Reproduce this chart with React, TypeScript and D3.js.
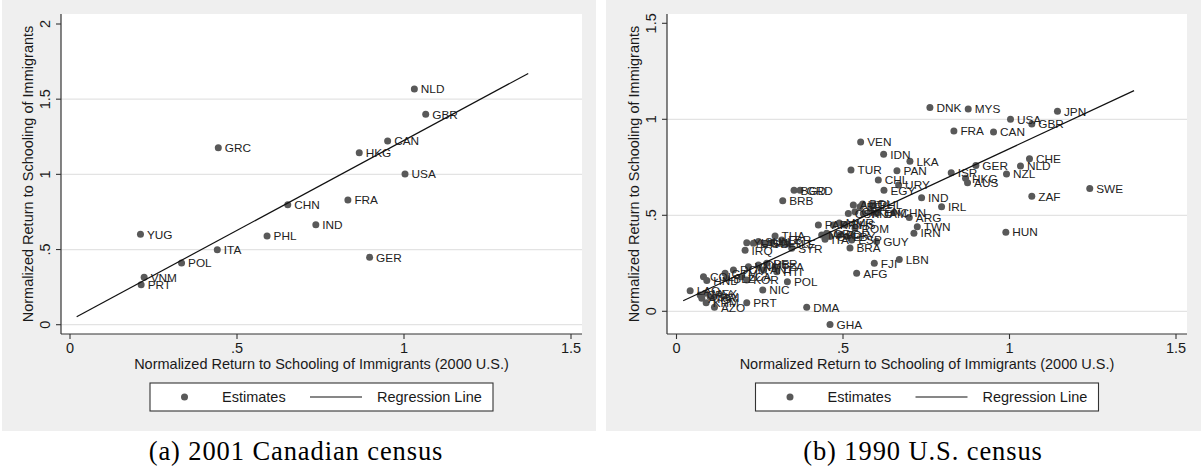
import React from 'react';
import * as d3 from 'd3';

// ---------- Panel (a): 2001 Canadian census ----------
const codes2001 = ['NLD', 'GBR', 'CAN', 'HKG', 'USA', 'GRC', 'FRA', 'CHN', 'IND', 'YUG', 'PHL', 'ITA', 'POL', 'VNM', 'PRT', 'GER'];
const x2001 = [1.031, 1.065, 0.951, 0.866, 1.003, 0.444, 0.832, 0.652, 0.736, 0.211, 0.59, 0.441, 0.334, 0.222, 0.213, 0.897];
const y2001 = [1.568, 1.399, 1.222, 1.144, 1.002, 1.177, 0.829, 0.798, 0.665, 0.601, 0.59, 0.499, 0.41, 0.315, 0.266, 0.448];
const fit2001 = { intercept: 0.029, slope: 1.197, from: 0.02, to: 1.372 };
const yTicks2001 = [0, 0.5, 1, 1.5, 2];
const yTickLabels2001 = ['0', '.5', '1', '1.5', '2'];
const yGrid2001 = [0, 0.5, 1, 1.5];

// ---------- Panel (b): 1990 U.S. census ----------
const codes1990 = [
  'DNK', 'MYS', 'JPN', 'USA', 'GBR', 'FRA', 'CAN', 'VEN', 'IDN', 'LKA',
  'CHE', 'NLD', 'GER', 'TUR', 'PAN', 'ISR', 'NZL', 'HKG', 'AUS', 'CHL',
  'URY', 'EGY', 'SWE', 'ZAF', 'IND', 'IRL', 'BGD', 'GRD', 'BRB', 'HUN',
  'AUT', 'BOL', 'PHL', 'BEL', 'CSK', 'CRI', 'TTO', 'KEN', 'JAM', 'CHN',
  'ARG', 'TWN', 'IRN', 'PAK', 'MMR', 'PRY', 'BHS', 'ROM', 'GRC', 'ITA',
  'MAR', 'CYP', 'JOR', 'LBY', 'ESP', 'GUY', 'BRA', 'THA', 'YUG', 'ETH',
  'SUN', 'SGP', 'MLT', 'LBR', 'SLE', 'SYR', 'IRQ', 'LBN', 'FJI', 'AFG',
  'VNM', 'CUB', 'PER', 'TZA', 'HTI', 'ANT', 'DOM', 'GTM', 'BLZ', 'LCA',
  'COL', 'HND', 'KOR', 'POL', 'NIC', 'LAO', 'CPV', 'MEX', 'SLV', 'ATG',
  'PRI', 'KHM', 'AZO', 'PRT', 'DMA', 'GHA',
];
const x1990 = [
  0.761, 0.876, 1.144, 1.003, 1.067, 0.833, 0.952, 0.553, 0.622, 0.701,
  1.06, 1.033, 0.899, 0.524, 0.662, 0.825, 0.991, 0.868, 0.874, 0.606,
  0.667, 0.623, 1.241, 1.067, 0.736, 0.796, 0.353, 0.371, 0.319, 0.989,
  0.531, 0.559, 0.59, 0.551, 0.516, 0.536, 0.561, 0.581, 0.601, 0.653,
  0.699, 0.723, 0.713, 0.426, 0.489, 0.471, 0.506, 0.536, 0.451, 0.446,
  0.436, 0.461, 0.491, 0.511, 0.526, 0.601, 0.521, 0.296, 0.211, 0.231,
  0.246, 0.266, 0.286, 0.316, 0.331, 0.346, 0.206, 0.669, 0.594, 0.541,
  0.216, 0.246, 0.271, 0.296, 0.301, 0.261, 0.171, 0.146, 0.151, 0.196,
  0.081, 0.091, 0.211, 0.333, 0.259, 0.041, 0.071, 0.086, 0.101, 0.076,
  0.111, 0.089, 0.114, 0.211, 0.391, 0.461,
];
const y1990 = [
  1.062, 1.054, 1.042, 1.0, 0.976, 0.939, 0.934, 0.882, 0.818, 0.781,
  0.795, 0.757, 0.76, 0.736, 0.732, 0.722, 0.715, 0.693, 0.67, 0.684,
  0.658, 0.63, 0.639, 0.599, 0.592, 0.545, 0.63, 0.63, 0.576, 0.412,
  0.554, 0.559, 0.555, 0.545, 0.51, 0.519, 0.51, 0.519, 0.51, 0.514,
  0.489, 0.44, 0.407, 0.449, 0.46, 0.449, 0.449, 0.432, 0.406, 0.375,
  0.397, 0.389, 0.397, 0.389, 0.371, 0.363, 0.33, 0.392, 0.357, 0.354,
  0.363, 0.35, 0.357, 0.371, 0.35, 0.328, 0.318, 0.27, 0.25, 0.198,
  0.232, 0.241, 0.25, 0.232, 0.206, 0.215, 0.215, 0.198, 0.172, 0.18,
  0.18, 0.16, 0.163, 0.154, 0.111, 0.107, 0.085, 0.094, 0.076, 0.068,
  0.073, 0.045, 0.021, 0.045, 0.021, -0.069,
];
const fit1990 = { intercept: 0.039, slope: 0.808, from: 0.02, to: 1.374 };
const yTicks1990 = [0, 0.5, 1, 1.5];
const yTickLabels1990 = ['0', '.5', '1', '1.5'];
const yGrid1990 = [0, 0.5, 1];

// Shared x axis
const xTicks = [0, 0.5, 1, 1.5];
const xTickLabels = ['0', '.5', '1', '1.5'];

const xTitle = 'Normalized Return to Schooling of Immigrants (2000 U.S.)';
const yTitle = 'Normalized Return to Schooling of Immigrants';
const legendLabels = ['Estimates', 'Regression Line'];

const SANS = '"Liberation Sans", Arial, sans-serif';
const SERIF = '"Liberation Serif", "Times New Roman", serif';
const BG = '#efefef';
const GRID = '#e3e3e3';
const INK = '#1a1a1a';
const MARK = '#595959';

type Layout = {
  grayX: number; grayW: number;
  left: number; right: number; top: number; bottom: number;
  xRange: [number, number];
  yDomain: [number, number]; yRange: [number, number];
  legendCx: number; captionCx: number;
};

const layoutA: Layout = {
  grayX: 2, grayW: 594, left: 61, right: 582, top: 14, bottom: 334,
  xRange: [70, 571], yDomain: [0, 2], yRange: [324.7, 24],
  legendCx: 321.5, captionCx: 296,
};
const layoutB: Layout = {
  grayX: 606, grayW: 595, left: 667, right: 1187, top: 14, bottom: 334,
  xRange: [676.5, 1176], yDomain: [0, 1.5], yRange: [311.3, 23.3],
  legendCx: 927, captionCx: 923,
};

type PanelProps = {
  lay: Layout;
  codes: string[]; xs: number[]; ys: number[];
  fit: { intercept: number; slope: number; from: number; to: number };
  yTicks: number[]; yTickLabels: string[]; yGrid: number[];
  caption: string;
};

function Panel({ lay, codes, xs, ys, fit, yTicks, yTickLabels, yGrid, caption }: PanelProps) {
  const x = d3.scaleLinear().domain([0, 1.5]).range(lay.xRange);
  const y = d3.scaleLinear().domain(lay.yDomain).range(lay.yRange);
  const fitLine = d3.line<number>().x((d) => x(d)).y((d) => y(fit.intercept + fit.slope * d));
  const midY = (lay.top + lay.bottom) / 2;
  const midX = (lay.left + lay.right) / 2;
  const tickLen = 5;
  const fs = 14.5;
  const lc = lay.legendCx;
  const legTop = 383;
  const legMid = 397;

  return (
    <g>
      <rect x={lay.grayX} y={0} width={lay.grayW} height={431} fill={BG} />
      <rect x={lay.left} y={lay.top} width={lay.right - lay.left} height={lay.bottom - lay.top} fill="#ffffff" />

      {yGrid.map((t) => (
        <line key={'g' + t} x1={lay.left} x2={lay.right} y1={y(t)} y2={y(t)} stroke={GRID} strokeWidth={1.2} />
      ))}

      {/* axes */}
      <line x1={lay.left} x2={lay.left} y1={lay.top} y2={lay.bottom} stroke="#333" strokeWidth={1.2} />
      <line x1={lay.left} x2={lay.right} y1={lay.bottom} y2={lay.bottom} stroke="#333" strokeWidth={1.2} />

      {yTicks.map((t, i) => (
        <g key={'y' + t}>
          <line x1={lay.left - tickLen} x2={lay.left} y1={y(t)} y2={y(t)} stroke="#333" strokeWidth={1.1} />
          <text
            transform={`translate(${lay.left - 11},${y(t)}) rotate(-90)`}
            textAnchor="middle" fontFamily={SANS} fontSize={fs} fill={INK}
          >
            {yTickLabels[i]}
          </text>
        </g>
      ))}
      {xTicks.map((t, i) => (
        <g key={'x' + t}>
          <line x1={x(t)} x2={x(t)} y1={lay.bottom} y2={lay.bottom + tickLen} stroke="#333" strokeWidth={1.1} />
          <text x={x(t)} y={353} textAnchor="middle" fontFamily={SANS} fontSize={fs} fill={INK}>
            {xTickLabels[i]}
          </text>
        </g>
      ))}

      <text
        transform={`translate(${lay.left - 28},${midY}) rotate(-90)`}
        textAnchor="middle" fontFamily={SANS} fontSize={fs} fill={INK}
      >
        {yTitle}
      </text>
      <text x={midX} y={369} textAnchor="middle" fontFamily={SANS} fontSize={fs} fill={INK}>
        {xTitle}
      </text>

      {/* estimates */}
      {xs.map((v, i) => (
        <circle key={'p' + i} cx={x(v)} cy={y(ys[i])} r={3.5} fill={MARK} />
      ))}
      {xs.map((v, i) => (
        <text key={'l' + i} x={x(v) + 6.5} y={y(ys[i]) + 4.3} fontFamily={SANS} fontSize={11.8} fill="#222">
          {codes[i]}
        </text>
      ))}

      {/* regression line */}
      <path d={fitLine([fit.from, fit.to]) || ''} fill="none" stroke="#111" strokeWidth={1.2} />

      {/* legend */}
      <rect x={lc - 171.5} y={legTop} width={343} height={28} fill="#ffffff" stroke="#333" strokeWidth={1.1} />
      <circle cx={lc - 137} cy={legMid} r={3.5} fill={MARK} />
      <text x={lc - 99.5} y={402} fontFamily={SANS} fontSize={fs} fill={INK}>{legendLabels[0]}</text>
      <line x1={lc - 11.5} x2={lc + 40.5} y1={legMid} y2={legMid} stroke="#111" strokeWidth={1.2} />
      <text x={lc + 55.5} y={402} fontFamily={SANS} fontSize={fs} fill={INK}>{legendLabels[1]}</text>

      <text
        x={lay.captionCx} y={460} textAnchor="middle" fontFamily={SERIF}
        fontSize={26.5} letterSpacing={0.9} fill="#000"
      >
        {caption}
      </text>
    </g>
  );
}

export default function App() {
  return (
    <svg
      width={1201}
      height={472}
      viewBox="0 0 1201 472"
      style={{ position: 'absolute', left: 0, top: 0, background: '#ffffff' }}
    >
      <Panel
        lay={layoutA} codes={codes2001} xs={x2001} ys={y2001} fit={fit2001}
        yTicks={yTicks2001} yTickLabels={yTickLabels2001} yGrid={yGrid2001}
        caption="(a) 2001 Canadian census"
      />
      <Panel
        lay={layoutB} codes={codes1990} xs={x1990} ys={y1990} fit={fit1990}
        yTicks={yTicks1990} yTickLabels={yTickLabels1990} yGrid={yGrid1990}
        caption="(b) 1990 U.S. census"
      />
    </svg>
  );
}
